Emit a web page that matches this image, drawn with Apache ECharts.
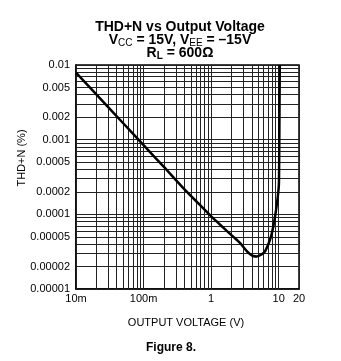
<!DOCTYPE html>
<html>
<head>
<meta charset="utf-8">
<script src="https://cdn.jsdelivr.net/npm/echarts@6/dist/echarts.min.js"></script>
<style>
  html, body { margin: 0; padding: 0; background: #fff; }
  #chart { width: 341px; height: 361px; }
</style>
</head>
<body>
<div id="chart"></div>
<script>
// THD+N (%) against output voltage (V), RL = 600 ohm
const voltage = [0.01, 0.02, 0.05, 0.1, 0.2, 0.41, 0.683, 1.07, 1.5, 2.12, 2.67, 3.35, 3.75, 4.2, 4.76, 5.58, 6.25, 7.0, 7.67, 8.3, 8.87, 9.3, 9.73, 10.07, 10.2, 10.3, 10.4];
const thdn = [0.0079, 0.00403, 0.00166, 0.000845, 0.000431, 0.000212, 0.0001336, 0.0000887, 0.0000668, 0.0000502, 0.0000414, 0.0000324, 0.0000295, 0.0000277, 0.0000273, 0.000029, 0.0000318, 0.0000395, 0.0000498, 0.0000677, 0.0000953, 0.000127, 0.000176, 0.000248, 0.0007, 0.003, 0.01];

// Axis tick labels
const xTickValues = [0.01, 0.1, 1, 10, 20];
const xTickLabels = ['10m', '100m', '1', '10', '20'];
const yTickValues = [0.01, 0.005, 0.002, 0.001, 0.0005, 0.0002, 0.0001, 0.00005, 0.00002, 0.00001];
const yTickLabels = ['0.01', '0.005', '0.002', '0.001', '0.0005', '0.0002', '0.0001', '0.00005', '0.00002', '0.00001'];

// Decades that carry the 1..9 grid
const xDecades = [0.01, 0.1, 1, 10];
const yDecades = [0.00001, 0.0001, 0.001];

const X_MIN = 0.01, X_MAX = 20, Y_MIN = 0.00001, Y_MAX = 0.01;
const FONT = 'Liberation Sans, Arial, sans-serif';

function gridValues(decades, lo, hi) {
  const out = [];
  decades.forEach(d => {
    for (let k = 1; k <= 9; k++) {
      const v = +(k * d).toPrecision(6);
      if (v > lo * 1.0001 && v < hi * 0.9999) out.push(v);
    }
  });
  return out;
}

const tickLabel = (text, dist) => ({
  show: true, position: 'start', formatter: text, distance: dist,
  color: '#000', fontSize: 11, fontFamily: FONT
});

// vertical and horizontal grid lines, each from one edge of the plot to the other
const vLine = (v, label) => [{ coord: [v, Y_MIN], label }, { coord: [v, Y_MAX] }];
const hLine = (v, label) => [{ coord: [X_MIN, v], label }, { coord: [X_MAX, v] }];

const markData = [];
gridValues(xDecades, X_MIN, X_MAX).forEach(v => markData.push(vLine(v)));
gridValues(yDecades, Y_MIN, Y_MAX).forEach(v => markData.push(hLine(v)));
xTickValues.forEach((v, i) => markData.push(vLine(v, tickLabel(xTickLabels[i], 4))));
yTickValues.forEach((v, i) => markData.push(hLine(v, tickLabel(yTickLabels[i], 6))));

const chart = echarts.init(document.getElementById('chart'), null, { renderer: 'canvas' });

chart.setOption({
  animation: false,
  backgroundColor: '#fff',
  grid: { left: 76, top: 65, width: 223, height: 224, show: true, borderColor: '#000', borderWidth: 1.5, backgroundColor: 'transparent' },
  xAxis: {
    type: 'log', logBase: 10, min: X_MIN, max: X_MAX,
    axisLine: { show: true, lineStyle: { color: '#000', width: 1.5 } },
    axisTick: { show: false }, axisLabel: { show: false }, splitLine: { show: false }
  },
  yAxis: {
    type: 'log', logBase: 10, min: Y_MIN, max: Y_MAX,
    axisLine: { show: true, lineStyle: { color: '#000', width: 1.5 } },
    axisTick: { show: false }, axisLabel: { show: false }, splitLine: { show: false }
  },
  graphic: [
    {
      type: 'text', x: 180, y: 21, silent: true,
      style: {
        align: 'center', fontFamily: FONT,
        text: '{t|THD+N vs Output Voltage}\n{t|V}{s|CC}{t| = 15V, V}{s|EE}{t| = \u201315V}\n{t|R}{sb|L}{t| = 600\u03a9}',
        rich: {
          t: { fontSize: 14, fontWeight: 'bold', fontFamily: FONT, fill: '#000', lineHeight: 13 },
          s: { fontSize: 10, fontFamily: FONT, fill: '#000', lineHeight: 13, verticalAlign: 'top', padding: [4, 0, 0, 0] },
          sb: { fontSize: 10, fontWeight: 'bold', fontFamily: FONT, fill: '#000', lineHeight: 13, verticalAlign: 'top', padding: [4, 0, 0, 0] }
        }
      }
    },
    {
      type: 'text', x: 22, y: 158, rotation: Math.PI / 2, silent: true,
      style: { text: 'THD+N (%)', align: 'center', verticalAlign: 'middle', fontSize: 11, fontFamily: FONT, fill: '#000' }
    },
    {
      type: 'text', x: 186, y: 317, silent: true,
      style: { text: 'OUTPUT VOLTAGE (V)', align: 'center', verticalAlign: 'top', fontSize: 11, fontFamily: FONT, fill: '#000' }
    },
    {
      type: 'text', x: 171, y: 342, silent: true,
      style: { text: 'Figure 8.', align: 'center', verticalAlign: 'top', fontSize: 12, fontWeight: 'bold', fontFamily: FONT, fill: '#000' }
    }
  ],
  series: [
    {
      name: 'grid', type: 'line', data: [], z: 1, silent: true,
      markLine: {
        silent: true, symbol: ['none', 'none'], animation: false,
        lineStyle: { color: '#222', width: 1, type: 'solid' },
        label: { show: false },
        emphasis: { disabled: true },
        data: markData
      }
    },
    {
      name: 'THD+N', type: 'line', z: 5,
      data: voltage.map((v, i) => [v, thdn[i]]),
      showSymbol: false, smooth: 0.25, clip: true,
      lineStyle: { color: '#000', width: 2.5 }
    }
  ]
});
</script>
</body>
</html>
